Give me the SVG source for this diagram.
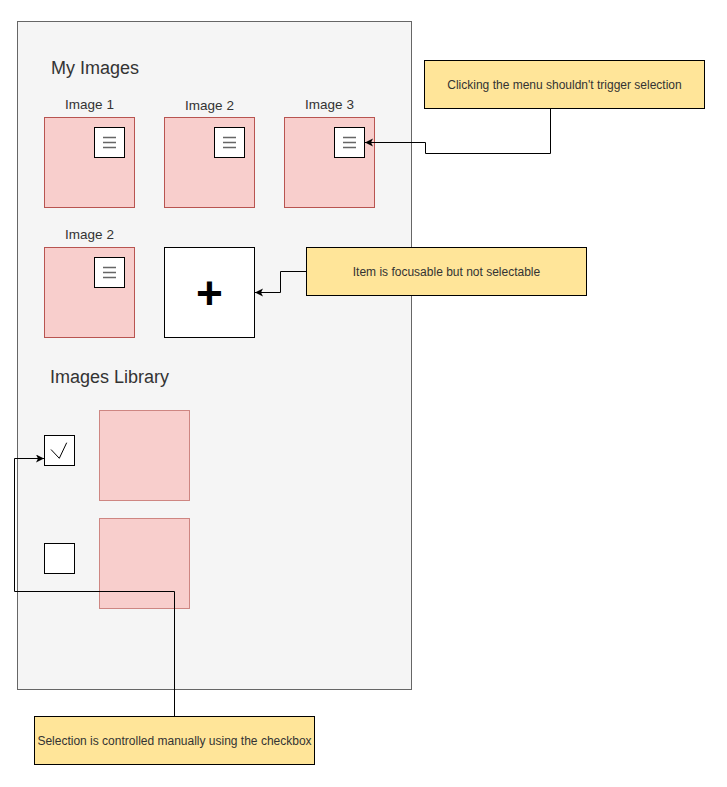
<svg xmlns="http://www.w3.org/2000/svg" width="727" height="787" viewBox="0 0 727 787">
<style>
.t{font-family:"Liberation Sans",Arial,sans-serif;fill:#333}
.h{font-size:18px}
.lbl{font-size:13.5px;text-anchor:middle}
.note{font-size:12px;text-anchor:middle}
.img{fill:#f8cecc;stroke:#b85450;stroke-width:1}
.img2{fill:#f8cecc;stroke:#b85450;stroke-opacity:0.65;stroke-width:1}
.menu{fill:#fff;stroke:#000;stroke-width:1}
.ham{stroke:#666;stroke-width:1.5;fill:none}
.nb{fill:#ffe599;stroke:#000;stroke-width:1}
.cb{fill:#fff;stroke:#000;stroke-width:1}
.edge{fill:none;stroke:#000;stroke-width:1}
</style>
<defs>
<marker id="arr" markerWidth="10" markerHeight="10" refX="8" refY="4" orient="auto" markerUnits="userSpaceOnUse">
<path d="M0,0 L8,4 L0,8 L2,4 Z" fill="#000"/>
</marker>
</defs>
<rect width="727" height="787" fill="#fff"/>
<g id="container">
<rect x="17.5" y="21.5" width="394" height="668" fill="#f5f5f5" stroke="#666"/>
</g>
<g id="title-my-images"><text class="t h" x="51" y="74">My Images</text></g>
<g id="image1">
<text class="t lbl" x="89.5" y="108.5">Image 1</text>
<rect class="img" x="44.5" y="117.5" width="90" height="90"/>
<rect class="menu" x="94.5" y="127.5" width="30" height="30"/>
<path class="ham" d="M103 137.5H116M103 142.5H116M103 147.5H116"/>
</g>
<g id="image2">
<text class="t lbl" x="209.5" y="110">Image 2</text>
<rect class="img" x="164.5" y="117.5" width="90" height="90"/>
<rect class="menu" x="214.5" y="127.5" width="30" height="30"/>
<path class="ham" d="M223 137.5H236M223 142.5H236M223 147.5H236"/>
</g>
<g id="image3">
<text class="t lbl" x="329.5" y="108.5">Image 3</text>
<rect class="img" x="284.5" y="117.5" width="90" height="90"/>
<rect class="menu" x="334.5" y="127.5" width="30" height="30"/>
<path class="ham" d="M343 137.5H356M343 142.5H356M343 147.5H356"/>
</g>
<g id="image2b">
<text class="t lbl" x="89.5" y="238.5">Image 2</text>
<rect class="img" x="44.5" y="247.5" width="90" height="90"/>
<rect class="menu" x="94.5" y="257.5" width="30" height="30"/>
<path class="ham" d="M103 267.5H116M103 272.5H116M103 277.5H116"/>
</g>
<g id="add-item">
<rect x="164.5" y="247.5" width="90" height="90" fill="#fff" stroke="#000"/>
<text x="209.5" y="309" font-family="Liberation Sans,Arial,sans-serif" font-weight="bold" font-size="46" text-anchor="middle" fill="#000">+</text>
</g>
<g id="title-library"><text class="t h" x="50" y="383">Images Library</text></g>
<g id="checkbox1">
<rect class="cb" x="44.5" y="435.5" width="30" height="30"/>
<path d="M51 449.5L59.3 458.3L66.7 442.7" fill="none" stroke="#000" stroke-width="1"/>
</g>
<g id="lib-image1"><rect class="img2" x="99.5" y="410.5" width="90" height="90"/></g>
<g id="checkbox2"><rect class="cb" x="44.5" y="543.5" width="30" height="30"/></g>
<g id="lib-image2"><rect class="img2" x="99.5" y="518.5" width="90" height="90"/></g>
<g id="note-menu">
<rect class="nb" x="424.5" y="60.5" width="280" height="48"/>
<text class="t note" x="564.5" y="88.5">Clicking the menu shouldn't trigger selection</text>
</g>
<g id="note-focus">
<rect class="nb" x="306.5" y="247.5" width="280" height="48"/>
<text class="t note" x="446.5" y="275.5">Item is focusable but not selectable</text>
</g>
<g id="note-selection">
<rect class="nb" x="34.5" y="716.5" width="280" height="48"/>
<text class="t note" x="174.5" y="744.5">Selection is controlled manually using the checkbox</text>
</g>
<g id="connectors">
<path class="edge" d="M550.5 108.5V153.5H425.5V142.5H365" marker-end="url(#arr)"/>
<path class="edge" d="M306.5 271.5H280.5V292.5H255" marker-end="url(#arr)"/>
<path class="edge" d="M174.5 716.5V591.5H14.5V458.5H44" marker-end="url(#arr)"/>
</g>
</svg>
